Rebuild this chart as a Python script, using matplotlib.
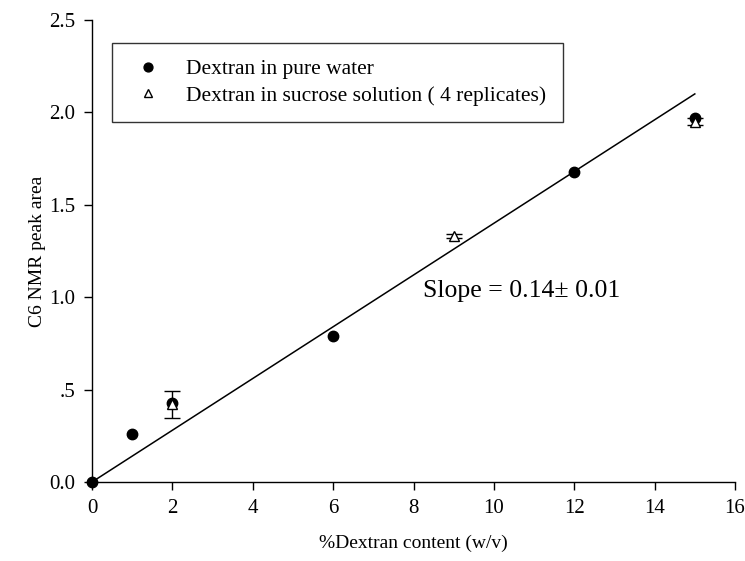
import matplotlib
matplotlib.use("Agg")
import matplotlib.pyplot as plt
import numpy as np

plt.rcParams['font.family'] = ['Liberation Serif', 'DejaVu Serif']

# dextran in pure water
water_x = [0, 1, 2, 6, 12, 15]
water_y = [0.0, 0.26, 0.43, 0.79, 1.68, 1.97]

# dextran in sucrose solution, mean of 4 replicates
sucrose_x = [2, 9, 15]
sucrose_y = [0.42, 1.33, 1.95]
sucrose_err = [0.075, 0.01, 0.02]

slope = 0.14
fit_x = [0, 15]

xticks = [0, 2, 4, 6, 8, 10, 12, 14, 16]
yticks = [0.0, 0.5, 1.0, 1.5, 2.0, 2.5]
ytick_labels = ['0.0', '.5', '1.0', '1.5', '2.0', '2.5']

fig = plt.figure(figsize=(7.45, 5.61), dpi=100)
ax = fig.add_axes([92/745, 1 - 482/561, (735-92)/745, (482-20)/561])

fit_y = [slope * v for v in fit_x]
ax.plot(fit_x, fit_y, color='black', lw=1.1, zorder=2)

ax.errorbar(sucrose_x, sucrose_y, yerr=sucrose_err, fmt='none', ecolor='black',
            elinewidth=1, capsize=6, capthick=1, zorder=3)
ax.plot(water_x, water_y, 'o', color='black', ms=7.5, ls='none',
        label='Dextran in pure water', zorder=4, clip_on=False)
ax.plot(sucrose_x, sucrose_y, '^', mfc='white', mec='black', mew=1, ms=7.5, ls='none',
        label='Dextran in sucrose solution ( 4 replicates)', zorder=5, clip_on=False)

ax.text(8.24, 1.0, 'Slope = 0.14\u00b1 0.01', fontsize=18.5, va='baseline')

ax.set_xlim(0, 16)
ax.set_ylim(0, 2.5)
ax.set_xticks(xticks)
ax.set_yticks(yticks)
ax.set_yticklabels(ytick_labels)
ax.tick_params(direction='out', length=6, width=1, labelsize=15, pad=6)
for s in ['top', 'right']:
    ax.spines[s].set_visible(False)
for s in ['left', 'bottom']:
    ax.spines[s].set_linewidth(1)

ax.set_xlabel('%Dextran content (w/v)', fontsize=14, labelpad=12)
ax.set_ylabel('C6 NMR peak area', fontsize=14, labelpad=2)

leg = ax.legend(loc='upper left', bbox_to_anchor=(20/643, 1 - 23/462), fontsize=15.5,
                frameon=True, fancybox=False, edgecolor='black', handletextpad=0.84,
                borderpad=0.75, labelspacing=0.3, handlelength=1.86, borderaxespad=0,
                markerscale=0.85)
leg.get_frame().set_linewidth(1)

fig.savefig('out.png', dpi=100)
